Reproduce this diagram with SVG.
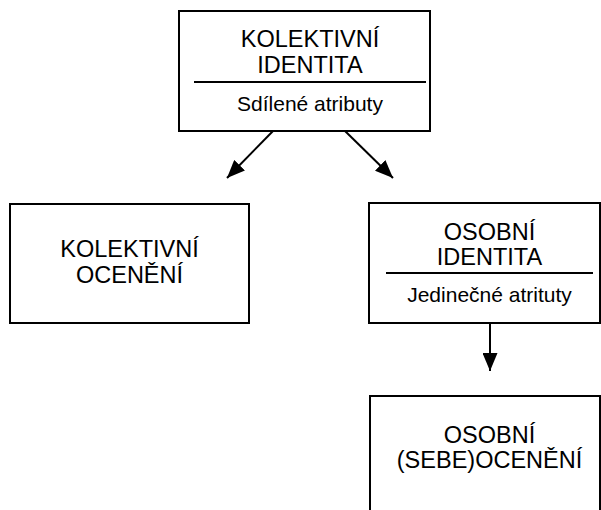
<svg xmlns="http://www.w3.org/2000/svg" width="601" height="510" viewBox="0 0 601 510">
<style>
.box{fill:#fff;stroke:#000;stroke-width:2}
.div{stroke:#000;stroke-width:2}
.t{font-family:"Liberation Sans",Arial,sans-serif;font-size:23.5px;fill:#000;text-anchor:middle}
.s{font-family:"Liberation Sans",Arial,sans-serif;font-size:21px;fill:#000;text-anchor:middle}
.c{stroke:#000;stroke-width:2;fill:none}
</style>
<defs>
<marker id="ah" viewBox="0 0 18 15" refX="18" refY="7.5" markerWidth="18" markerHeight="15" markerUnits="userSpaceOnUse" orient="auto">
<path d="M0,0 L18,7.5 L0,15 z" fill="#000"/>
</marker>
</defs>
<rect width="601" height="510" fill="#fff"/>
<g id="collective-identity">
<rect class="box" x="179" y="11" width="251" height="120"/>
<text class="t" x="310" y="47">KOLEKTIVNÍ</text>
<text class="t" x="310" y="73">IDENTITA</text>
<line class="div" x1="194" y1="82" x2="426" y2="82"/>
<text class="s" x="310" y="111">Sdílené atributy</text>
</g>
<g id="collective-evaluation">
<rect class="box" x="10" y="204" width="239" height="119"/>
<text class="t" x="129.5" y="257">KOLEKTIVNÍ</text>
<text class="t" x="129.5" y="283">OCENĚNÍ</text>
</g>
<g id="personal-identity">
<rect class="box" x="369" y="203" width="231" height="120"/>
<text class="t" x="489.5" y="240">OSOBNÍ</text>
<text class="t" x="489.5" y="265">IDENTITA</text>
<line class="div" x1="386" y1="273" x2="593" y2="273"/>
<text class="s" x="489.5" y="302">Jedinečné atrituty</text>
</g>
<g id="personal-self-evaluation">
<path class="box" d="M370,512 L370,396 L600,396 L600,512"/>
<text class="t" x="489.5" y="443">OSOBNÍ</text>
<text class="t" x="489.5" y="468">(SEBE)OCENĚNÍ</text>
</g>
<g id="connectors">
<line class="c" x1="273" y1="131" x2="227" y2="178" marker-end="url(#ah)"/>
<line class="c" x1="345" y1="131" x2="393" y2="178" marker-end="url(#ah)"/>
<line class="c" x1="490" y1="323" x2="490" y2="371" marker-end="url(#ah)"/>
</g>
</svg>
